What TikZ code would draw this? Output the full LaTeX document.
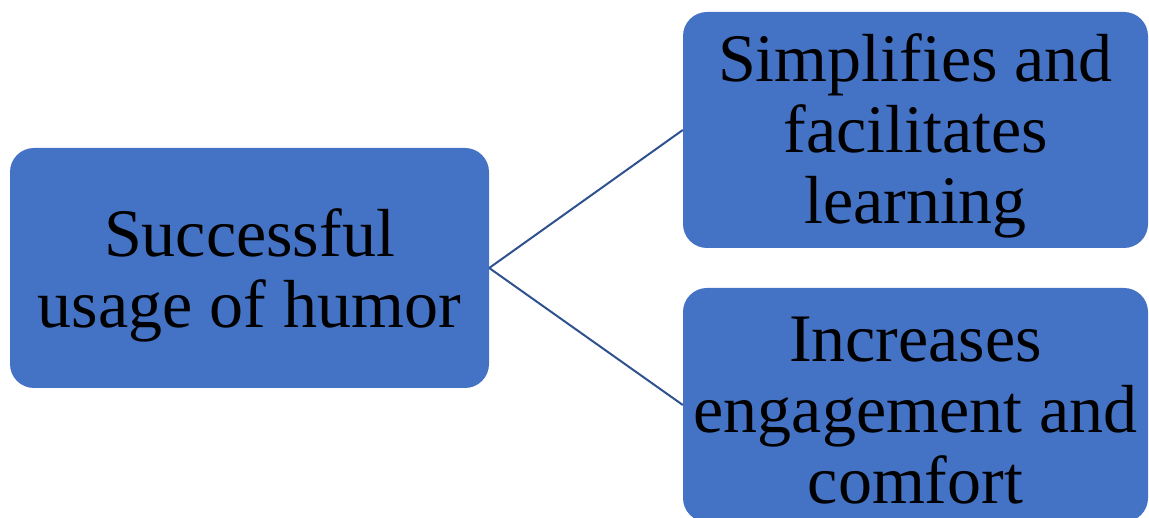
\documentclass[tikz,border=0pt]{standalone}
\usepackage{fontspec}
\setmainfont{Liberation Serif}
\definecolor{boxblue}{HTML}{4472C4}
\definecolor{linkblue}{HTML}{2F528F}
\begin{document}
\begin{tikzpicture}[x=1pt,y=1pt,
  box/.style={fill=boxblue, draw=none, rounded corners=24pt, inner sep=0pt},
  boxtext/.style={inner sep=0pt, align=center, text=black, font=\fontsize{68}{71}\selectfont},
  link/.style={draw=linkblue, line width=2pt}]
\clip (0,0) rectangle (1149,518);
\useasboundingbox (0,0) rectangle (1149,518);
\node[box, minimum width=479pt, minimum height=240pt] (l) at (249.5,250) {};
\node[boxtext] (lt) at ([yshift=-7pt]l.center) {Successful\\usage of humor};
\node[box, minimum width=465pt, minimum height=236pt] (t) at (915.5,388) {};
\node[boxtext] (tt) at ([yshift=-6pt]t.center) {Simplifies and\\facilitates\\learning};
\node[box, minimum width=465pt, minimum height=234pt] (b) at (915.5,113) {};
\node[boxtext] (bt) at ([yshift=-6pt]b.center) {Increases\\engagement and\\comfort};
\draw[link] (l.east) -- (t.west);
\draw[link] (l.east) -- (b.west);
\end{tikzpicture}
\end{document}
